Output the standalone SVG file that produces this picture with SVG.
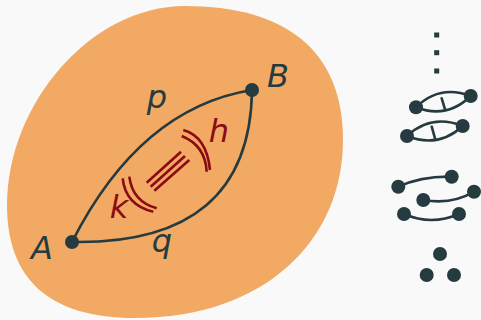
<svg xmlns="http://www.w3.org/2000/svg" width="481" height="320" viewBox="0 0 481 320">
  <style>
    .edge{fill:none;stroke:#253B40;stroke-width:2.6;stroke-linecap:round}
    .dot{fill:#253B40}
    .red{fill:none;stroke:#8B0B14;stroke-width:2.6;stroke-linecap:butt}
    .lbl{font-family:"DejaVu Sans",sans-serif;font-style:italic;font-size:32px;fill:#253B40}
    .rlbl{font-family:"DejaVu Sans",sans-serif;font-style:italic;font-size:32px;fill:#8B0B14}
  </style>
  <rect width="481" height="320" fill="#F9F9F9"/>
  <g id="region">
    <path d="M185,6 C285,6 343,50 343,140 C343,240 265,318 135,318 C50,318 7,280 7,205 C7,105 90,6 185,6 Z" fill="#F2A963"/>
  </g>
  <g id="connectors">
    <path id="p" class="edge" d="M72,242 Q140,108 252,90"/>
    <path id="q" class="edge" d="M72,242 Q250,245 252,90"/>
  </g>
  <g id="relation">
    <line class="red" x1="146.7" y1="182.7" x2="181" y2="151.7"/>
    <line class="red" x1="150.7" y1="186.7" x2="185" y2="156"/>
    <line class="red" x1="154.3" y1="190.7" x2="189.3" y2="160"/>
    <path class="red" d="M122.7,178.3 Q125.4,205 153.3,211.7"/>
    <path class="red" d="M129.3,176.7 Q132.6,201.9 156.7,208.3"/>
    <path class="red" d="M183.3,130 Q206.75,136.6 210,170"/>
    <path class="red" d="M181.7,136 Q205.4,145.45 206.7,171.7"/>
  </g>
  <g id="node-A">
    <circle class="dot" cx="72" cy="242" r="7"/>
    <text class="lbl" x="31" y="259">A</text>
  </g>
  <g id="node-B">
    <circle class="dot" cx="252" cy="90" r="7"/>
    <text class="lbl" x="267" y="87">B</text>
  </g>
  <g id="labels">
    <text class="lbl" x="157" y="108" text-anchor="middle">p</text>
    <text class="lbl" x="162" y="252" text-anchor="middle">q</text>
    <text class="rlbl" x="119" y="218" text-anchor="middle">k</text>
    <text class="rlbl" x="219" y="141.5" text-anchor="middle">h</text>
  </g>
  <g id="icon-vdots" fill="#253B40">
    <rect x="434.2" y="32.5" width="5" height="5"/>
    <rect x="434.2" y="50.2" width="5" height="5"/>
    <rect x="434.2" y="68.5" width="5" height="5"/>
  </g>
  <g id="icon-lenses">
    <path class="edge" d="M416,107.3 Q439.5,84.1 470.7,96"/>
    <path class="edge" d="M416,107.3 Q446.9,119.3 470.7,96"/>
    <line class="edge" x1="441.7" y1="98.3" x2="445" y2="109.3"/>
    <circle class="dot" cx="416" cy="107.3" r="7"/>
    <circle class="dot" cx="470.7" cy="96" r="7"/>
    <path class="edge" d="M407,136 Q431.2,113.4 462.7,126"/>
    <path class="edge" d="M407,136 Q438.5,148.6 462.7,126"/>
    <line class="edge" x1="431.7" y1="126.7" x2="435" y2="138.3"/>
    <circle class="dot" cx="407" cy="136" r="7"/>
    <circle class="dot" cx="462.7" cy="126" r="7"/>
  </g>
  <g id="icon-segments">
    <path class="edge" d="M398.3,186.7 Q422,176 451.7,176.7"/>
    <circle class="dot" cx="398.3" cy="186.7" r="7"/>
    <circle class="dot" cx="451.7" cy="176.7" r="7"/>
    <path class="edge" d="M423.3,200 Q452,205 474,191.7"/>
    <circle class="dot" cx="423.3" cy="200" r="7"/>
    <circle class="dot" cx="474" cy="191.7" r="7"/>
    <path class="edge" d="M404,214 Q431.5,226 459,214"/>
    <circle class="dot" cx="404" cy="214" r="7"/>
    <circle class="dot" cx="459" cy="214" r="7"/>
  </g>
  <g id="icon-points">
    <circle class="dot" cx="440" cy="254" r="7"/>
    <circle class="dot" cx="426.7" cy="275" r="7"/>
    <circle class="dot" cx="454" cy="275" r="7"/>
  </g>
</svg>
